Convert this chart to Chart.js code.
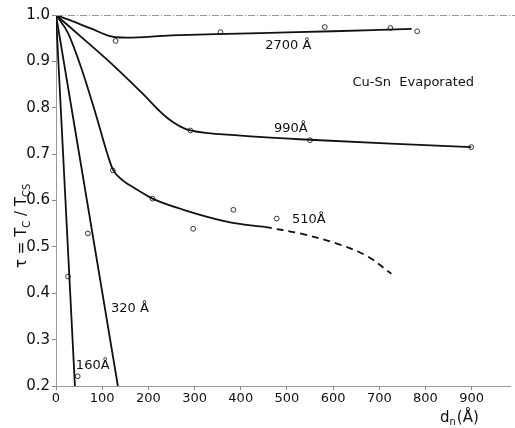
<!DOCTYPE html>
<html>
<head>
<meta charset="utf-8">
<script src="https://cdn.jsdelivr.net/npm/chart.js@4/dist/chart.umd.min.js"></script>
<style>
html, body { margin: 0; padding: 0; background: #fff; }
</style>
</head>
<body>
<canvas id="myChart" width="515" height="428"></canvas>
<script>
// tick labels
var xTicks = [0, 100, 200, 300, 400, 500, 600, 700, 800, 900];
var yTicks = [0.2, 0.3, 0.4, 0.5, 0.6, 0.7, 0.8, 0.9, 1.0];

// 2700 A film
var curve2700X = [0, 40, 75, 129, 250, 442, 600, 770];
var curve2700Y = [1.0, 0.985, 0.971, 0.952, 0.956, 0.961, 0.965, 0.970];
var pts2700X = [129, 356, 582, 724, 782];
var pts2700Y = [0.944, 0.963, 0.974, 0.972, 0.965];

// 990 A film
var curve990X = [0, 60, 120, 185, 241, 291, 400, 550, 899];
var curve990Y = [1.0, 0.948, 0.895, 0.833, 0.778, 0.751, 0.740, 0.731, 0.715];
var pts990X = [291, 550, 899];
var pts990Y = [0.751, 0.730, 0.715];

// 510 A film (solid part, then dashed extrapolation)
var curve510X = [0, 26, 54, 85, 112, 123, 145, 168, 209, 276, 377, 452];
var curve510Y = [1.0, 0.961, 0.888, 0.790, 0.698, 0.667, 0.643, 0.628, 0.604, 0.580, 0.553, 0.543];
var dash510X = [452, 528, 608, 672, 726];
var dash510Y = [0.543, 0.529, 0.507, 0.481, 0.442];
var pts510X = [123, 209, 297, 384, 478];
var pts510Y = [0.665, 0.604, 0.539, 0.580, 0.561];

// 320 A film
var line320X = [0, 134];
var line320Y = [1.0, 0.2];
var pts320X = [69];
var pts320Y = [0.529];

// 160 A film
var line160X = [0, 41];
var line160Y = [1.0, 0.2];
var pts160X = [26, 47];
var pts160Y = [0.436, 0.221];

// curve labels
var labelText = ['2700 Å', '990Å', '510Å', '320 Å', '160Å', 'Cu-Sn  Evaporated'];
var labelX = [453, 472, 511, 119, 43, 642];
var labelY = [0.935, 0.756, 0.559, 0.366, 0.243, 0.855];

function xy(xs, ys) {
    return xs.map(function (x, i) { return { x: x, y: ys[i] }; });
}

function curve(xs, ys, dash, mono) {
    return {
        data: xy(xs, ys),
        showLine: true,
        borderColor: '#111',
        borderWidth: 1.8,
        borderDash: dash || [],
        pointRadius: 0,
        tension: 0.35,
        cubicInterpolationMode: mono ? 'monotone' : 'default'
    };
}

function marks(xs, ys) {
    return {
        data: xy(xs, ys),
        showLine: false,
        pointRadius: 2.4,
        pointBorderWidth: 1,
        pointBorderColor: '#333',
        pointBackgroundColor: '#fff'
    };
}

var textPlugin = {
    id: 'texts',
    afterDraw: function (chart) {
        var ctx = chart.ctx;
        var xs = chart.scales.x, ys = chart.scales.y;
        var area = chart.chartArea;
        ctx.save();
        // dotted frame line on top
        ctx.strokeStyle = '#999';
        ctx.lineWidth = 1;
        ctx.setLineDash([7, 2, 1, 2]);
        ctx.beginPath();
        ctx.moveTo(area.left, area.top + 0.5);
        ctx.lineTo(chart.width, area.top + 0.5);
        ctx.stroke();
        ctx.setLineDash([]);

        ctx.fillStyle = '#111';
        ctx.font = '13px "DejaVu Sans"';
        ctx.textBaseline = 'middle';
        ctx.textAlign = 'left';
        for (var i = 0; i < labelText.length; i++) {
            ctx.fillText(labelText[i], xs.getPixelForValue(labelX[i]), ys.getPixelForValue(labelY[i]));
        }

        // x axis title: d_n (A)
        ctx.font = '15px "DejaVu Sans"';
        ctx.textBaseline = 'alphabetic';
        var tx = 440, ty = 422;
        ctx.fillText('d', tx, ty);
        tx += ctx.measureText('d').width;
        ctx.font = '10px "DejaVu Sans"';
        ctx.fillText('n', tx, ty + 3);
        tx += ctx.measureText('n').width + 1;
        ctx.font = '15px "DejaVu Sans"';
        ctx.fillText('(Å)', tx, ty);

        // y axis title: tau = T_C / T_CS
        ctx.translate(26, 268);
        ctx.rotate(-Math.PI / 2);
        var parts = [['τ = T', 15, 0], ['C', 10, 4], [' / T', 15, 0], ['CS', 10, 4]];
        var px = 0;
        parts.forEach(function (p) {
            ctx.font = p[1] + 'px "DejaVu Sans"';
            ctx.fillText(p[0], px, p[2]);
            px += ctx.measureText(p[0]).width;
        });
        ctx.restore();
    }
};

var ctx = document.getElementById('myChart').getContext('2d');
var myChart = new Chart(ctx, {
    type: 'scatter',
    data: {
        datasets: [
            curve(curve2700X, curve2700Y),
            curve(curve990X, curve990Y),
            curve(curve510X, curve510Y, null, true),
            curve(dash510X, dash510Y, [7, 5]),
            curve(line320X, line320Y),
            curve(line160X, line160Y),
            marks(pts2700X, pts2700Y),
            marks(pts990X, pts990Y),
            marks(pts510X, pts510Y),
            marks(pts320X, pts320Y),
            marks(pts160X, pts160Y)
        ]
    },
    options: {
        responsive: false,
        animation: false,
        layout: { padding: { top: 15, right: 3, left: 0, bottom: 0 } },
        plugins: { legend: { display: false }, tooltip: { enabled: false } },
        scales: {
            x: {
                type: 'linear',
                min: 0,
                max: 983,
                afterBuildTicks: function (scale) {
                    scale.ticks = xTicks.map(function (v) { return { value: v }; });
                },
                afterFit: function (scale) { scale.height = 42; },
                border: { color: '#999', dash: [6, 3] },
                grid: { drawOnChartArea: false, tickLength: 4, color: '#888' },
                ticks: { color: '#111', font: { family: 'DejaVu Sans', size: 13 }, padding: 1, maxRotation: 0 }
            },
            y: {
                type: 'linear',
                min: 0.2,
                max: 1.0,
                afterBuildTicks: function (scale) {
                    scale.ticks = yTicks.map(function (v) { return { value: v }; });
                },
                afterFit: function (scale) { scale.width = 56; },
                border: { color: '#999' },
                grid: { drawOnChartArea: false, tickLength: 4, color: '#888' },
                ticks: {
                    color: '#111',
                    font: { family: 'DejaVu Sans', size: 15 },
                    padding: 2,
                    callback: function (v) { return Number(v).toFixed(1); }
                }
            }
        }
    },
    plugins: [textPlugin]
});
</script>
</body>
</html>
